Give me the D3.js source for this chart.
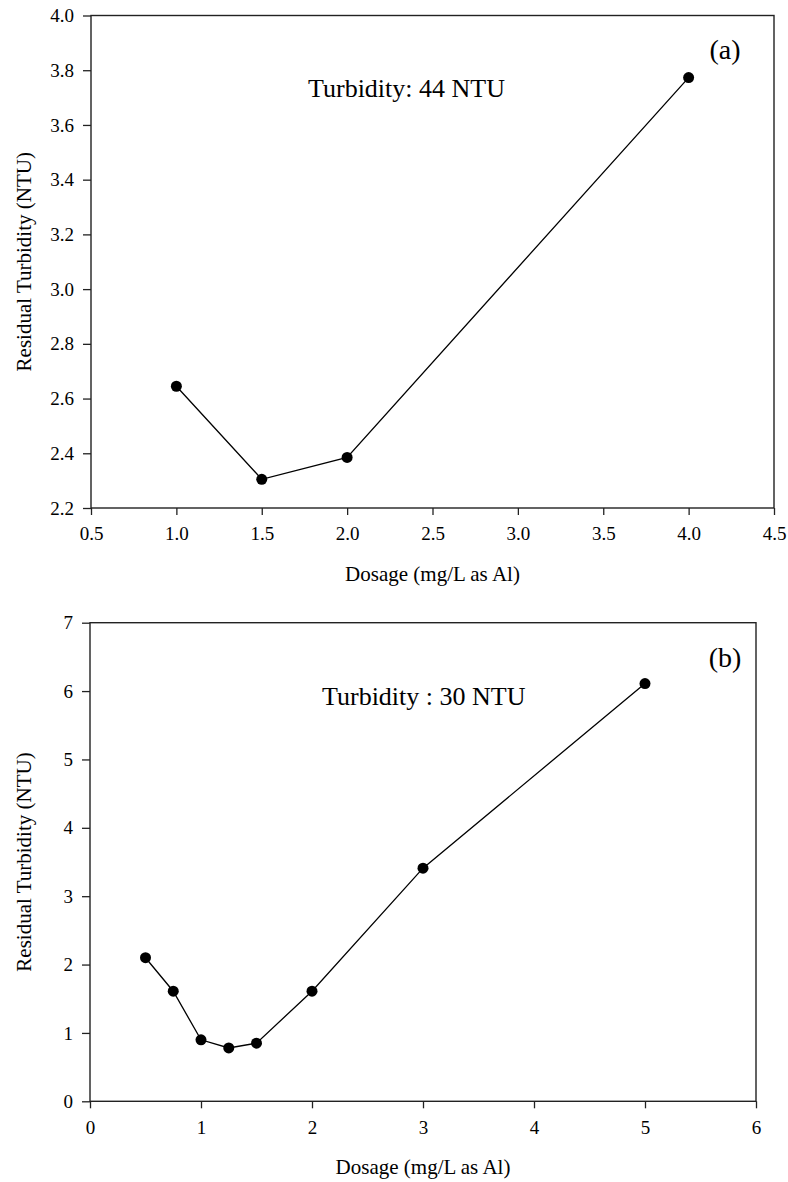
<!DOCTYPE html>
<html>
<head>
<meta charset="utf-8">
<script src="https://cdn.jsdelivr.net/npm/d3@7"></script>
<style>
  body { margin: 0; background: #fff; }
  svg text { font-family: "Liberation Serif", "Times New Roman", serif !important; fill: #000; }
</style>
</head>
<body>
<svg id="chart" width="788" height="1182"></svg>
<script>
// panel (a): 44 NTU raw water
const dosageA = [1.0, 1.5, 2.0, 4.0];
const residualA = [2.645, 2.305, 2.385, 3.773];
const xTicksA = [0.5, 1.0, 1.5, 2.0, 2.5, 3.0, 3.5, 4.0, 4.5];
const yTicksA = [2.2, 2.4, 2.6, 2.8, 3.0, 3.2, 3.4, 3.6, 3.8, 4.0];

// panel (b): 30 NTU raw water
const dosageB = [0.5, 0.75, 1.0, 1.25, 1.5, 2.0, 3.0, 5.0];
const residualB = [2.1, 1.61, 0.9, 0.78, 0.85, 1.61, 3.41, 6.11];
const xTicksB = [0, 1, 2, 3, 4, 5, 6];
const yTicksB = [0, 1, 2, 3, 4, 5, 6, 7];

const svg = d3.select('#chart');

function panel(o) {
  const x = d3.scaleLinear().domain(o.xDomain).range([o.left, o.right]);
  const y = d3.scaleLinear().domain(o.yDomain).range([o.bottom, o.top]);
  const g = svg.append('g');

  g.append('rect')
    .attr('x', o.left).attr('y', o.top)
    .attr('width', o.right - o.left).attr('height', o.bottom - o.top)
    .attr('fill', 'none').attr('stroke', '#222').attr('stroke-width', 1.4);

  const xa = g.append('g')
    .attr('transform', `translate(0,${o.bottom})`)
    .call(d3.axisBottom(x).tickValues(o.xTicks).tickFormat(o.xFmt)
      .tickSize(7).tickSizeOuter(0).tickPadding(12));
  const ya = g.append('g')
    .attr('transform', `translate(${o.left},0)`)
    .call(d3.axisLeft(y).tickValues(o.yTicks).tickFormat(o.yFmt)
      .tickSize(8).tickSizeOuter(0).tickPadding(9));
  [xa, ya].forEach((a) => {
    a.attr('font-family', 'Liberation Serif').attr('font-size', 19);
    a.select('.domain').remove();
    a.selectAll('line').attr('stroke', '#222').attr('stroke-width', 1.3);
    a.selectAll('text').attr('fill', '#000');
  });

  const pts = o.xs.map((d, i) => [d, o.ys[i]]);
  g.append('path')
    .datum(pts)
    .attr('d', d3.line().x((d) => x(d[0])).y((d) => y(d[1])))
    .attr('fill', 'none').attr('stroke', '#000').attr('stroke-width', 1.3);
  g.selectAll('circle.pt')
    .data(pts)
    .enter()
    .append('circle')
    .attr('class', 'pt')
    .attr('cx', (d) => x(d[0]))
    .attr('cy', (d) => y(d[1]))
    .attr('r', 5.5)
    .attr('fill', '#000');

  g.append('text')
    .attr('x', (o.left + o.right) / 2).attr('y', o.bottom + 73)
    .attr('text-anchor', 'middle').style('font-size', '21px')
    .text('Dosage (mg/L as Al)');
  g.append('text')
    .attr('transform', `translate(31,${(o.top + o.bottom) / 2}) rotate(-90)`)
    .attr('text-anchor', 'middle').style('font-size', '21px')
    .text('Residual Turbidity (NTU)');

  g.append('text')
    .attr('x', o.noteX).attr('y', o.top + o.noteDy)
    .style('font-size', '26px')
    .text(o.note);
  g.append('text')
    .attr('x', 725).attr('y', o.top + o.tagDy)
    .attr('text-anchor', 'middle').style('font-size', '28px')
    .text(o.tag);
}

panel({
  xs: dosageA, ys: residualA, xTicks: xTicksA, yTicks: yTicksA,
  xDomain: [0.5, 4.5], yDomain: [2.2, 4.0],
  left: 91, right: 774, top: 15.5, bottom: 508,
  xFmt: d3.format('.1f'), yFmt: d3.format('.1f'),
  note: 'Turbidity: 44 NTU', noteX: 308, noteDy: 81,
  tag: '(a)', tagDy: 43
});

panel({
  xs: dosageB, ys: residualB, xTicks: xTicksB, yTicks: yTicksB,
  xDomain: [0, 6], yDomain: [0, 7],
  left: 90, right: 756, top: 622.7, bottom: 1101.3,
  xFmt: d3.format('d'), yFmt: d3.format('d'),
  note: 'Turbidity : 30 NTU', noteX: 322, noteDy: 82,
  tag: '(b)', tagDy: 44
});
</script>
</body>
</html>
